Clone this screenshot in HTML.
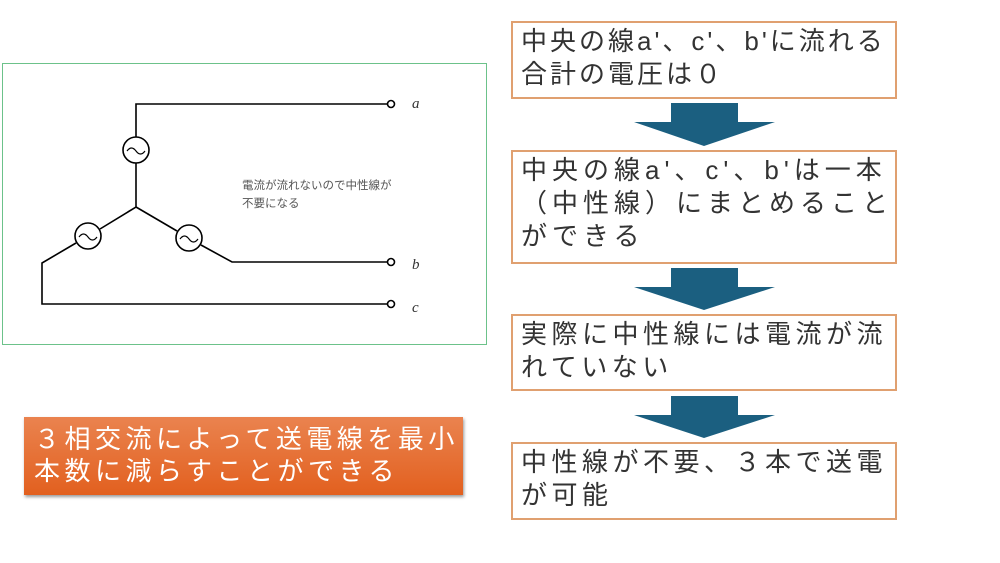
<!DOCTYPE html>
<html><head><meta charset="utf-8"><style>
body{margin:0;width:1000px;height:563px;background:#fff;position:relative;overflow:hidden;font-family:"Liberation Sans","Noto Sans CJK JP",sans-serif}
.b{position:absolute;left:511px;width:386px;border:2px solid #e0a070;box-sizing:border-box;color:#333;font-size:26px;line-height:33px;padding:2px 0 0 8px;white-space:nowrap}
.o{position:absolute;left:24px;top:417px;width:439px;height:78px;background:linear-gradient(#ea834f,#e2601f);box-shadow:1px 2px 3px #999;color:#fff;font-size:26px;line-height:32px;padding:6px 0 0 10px;box-sizing:border-box;letter-spacing:4.5px;white-space:nowrap}
</style></head><body>
<svg width="1000" height="563" style="position:absolute;left:0;top:0">
<rect x="2.5" y="63.5" width="484" height="281" fill="none" stroke="#6cc28a" stroke-width="1"/>
<g stroke="#000" stroke-width="1.6" fill="none">
<path d="M387 104H136V137M136 163V207L100 229M76 243L42 263V304H387M136 207L177 231M201 245L232 262H387"/>
<circle cx="136" cy="150" r="13"/><circle cx="88" cy="236" r="13"/><circle cx="189" cy="238" r="13"/>
<circle cx="391" cy="104" r="3.5"/><circle cx="391" cy="262" r="3.5"/><circle cx="391" cy="304" r="3.5"/>
<path d="M127 151q4.5-6 9 0t9 0M79 237q4.5-6 9 0t9 0M180 239q4.5-6 9 0t9 0" stroke-width="1.2"/>
</g>
<g font-family="Liberation Serif,serif" font-style="italic" font-size="15" fill="#333">
<text x="412" y="108">a</text><text x="412" y="269">b</text><text x="412" y="312">c</text></g>
<text x="242" y="189" font-size="11.5" fill="#555" font-family="Liberation Sans,Noto Sans CJK JP,sans-serif">電流が流れないので中性線が</text>
<text x="242" y="207" font-size="11.5" fill="#555" font-family="Liberation Sans,Noto Sans CJK JP,sans-serif">不要になる</text>
<g fill="#1b5f80">
<path d="M671 103H738V122H775L704 146L634 122H671Z"/>
<path d="M671 268H738V287H775L704 310L634 287H671Z"/>
<path d="M671 396H738V415H775L704 438L634 415H671Z"/>
</g>
</svg>
<div class="b" style="top:21px;height:78px;letter-spacing:3px">中央の線a'、c'、b'に流れる<br>合計の電圧は０</div>
<div class="b" style="top:150px;height:114px;letter-spacing:5px">中央の線a'、c'、b'は一本<br>（中性線）にまとめること<br>ができる</div>
<div class="b" style="top:314px;height:77px;letter-spacing:4.5px">実際に中性線には電流が流<br>れていない</div>
<div class="b" style="top:442px;height:78px;letter-spacing:4.5px">中性線が不要、３本で送電<br>が可能</div>
<div class="o">３相交流によって送電線を最小<br>本数に減らすことができる</div>
</body></html>
